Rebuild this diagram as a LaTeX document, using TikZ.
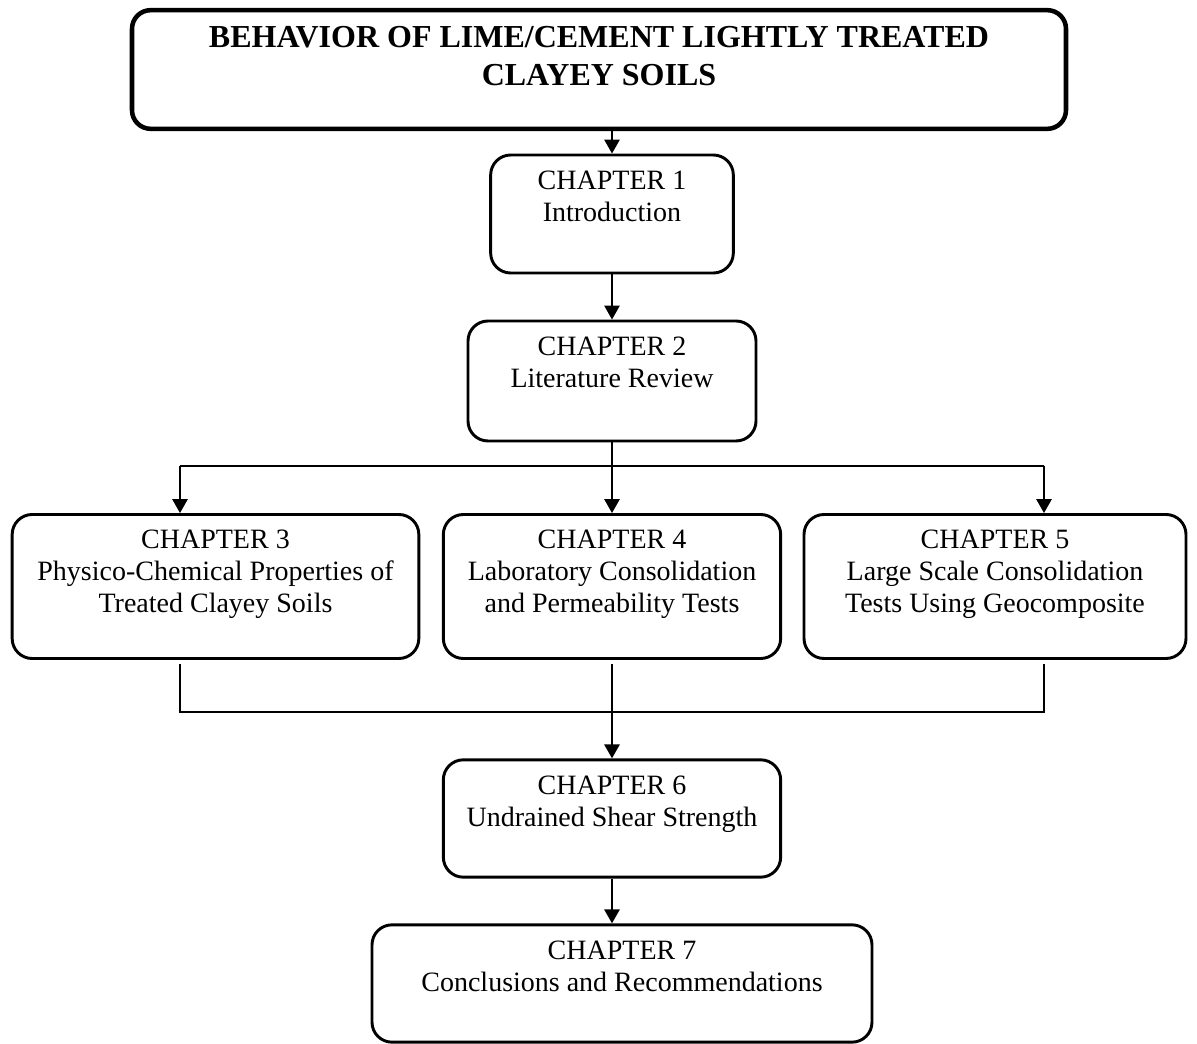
\documentclass[tikz,border=0pt]{standalone}
\usepackage{fontspec}
\setmainfont{Liberation Serif}
\usetikzlibrary{arrows.meta, positioning, calc}

\tikzset{
  chapbox/.style={draw, rounded corners=15pt, line width=2.2pt, inner sep=0pt},
  chaplabel/.style={anchor=north, align=center, inner sep=0pt, yshift=-12.75pt, font=\fontsize{21}{24}\selectfont},
  link/.style={line width=1.5pt},
  arrow/.style={link, -{Triangle[width=11.5pt,length=10.5pt]}}
}

\begin{document}
\begin{tikzpicture}[x=0.75pt, y=-0.75pt]
\useasboundingbox (0,0) rectangle (1197,1044);

% title
\node[chapbox, line width=3.4pt, rounded corners=14pt, minimum width=700.5pt, minimum height=89pt,
  label={[chaplabel, yshift=-1pt, font=\bfseries\fontsize{24}{28.5}\selectfont]north:{BEHAVIOR OF LIME/CEMENT LIGHTLY TREATED\\CLAYEY SOILS}}]
  (title) at (599,69.5) {};

% chapters
\node[chapbox, minimum width=182pt, minimum height=88.5pt,
  label={[chaplabel]north:{CHAPTER 1\\Introduction}}] (ch1) at (612,214) {};
\node[chapbox, minimum width=216pt, minimum height=90pt,
  label={[chaplabel]north:{CHAPTER 2\\Literature Review}}] (ch2) at (612,381) {};
\node[chapbox, minimum width=305pt, minimum height=108pt,
  label={[chaplabel]north:{CHAPTER 3\\Physico-Chemical Properties of\\Treated Clayey Soils}}] (ch3) at (215.5,586.5) {};
\node[chapbox, minimum width=253pt, minimum height=108pt,
  label={[chaplabel]north:{CHAPTER 4\\Laboratory Consolidation\\and Permeability Tests}}] (ch4) at (612,586.5) {};
\node[chapbox, minimum width=286.5pt, minimum height=108pt,
  label={[chaplabel]north:{CHAPTER 5\\Large Scale Consolidation\\Tests Using Geocomposite}}] (ch5) at (995,586.5) {};
\node[chapbox, minimum width=253pt, minimum height=88pt,
  label={[chaplabel]north:{CHAPTER 6\\Undrained Shear Strength}}] (ch6) at (612,818.5) {};
\node[chapbox, minimum width=375pt, minimum height=88pt,
  label={[chaplabel]north:{CHAPTER 7\\Conclusions and Recommendations}}] (ch7) at (622,983.5) {};

% branch and merge points
\coordinate (splitL) at (180,466);
\coordinate (splitR) at (1044,466);
\coordinate (joinL) at (180,712);
\coordinate (joinR) at (1044,712);

\draw[arrow] (ch1.north |- title.south) -- (ch1.north);
\draw[arrow] (ch1) -- (ch2);
\draw[link] (ch2.south) -- (ch2.south |- splitL);
\draw[link] (splitL) -- (splitR);
\draw[arrow] (splitL) -- (splitL |- ch3.north);
\draw[arrow] (ch2.south |- splitL) -- (ch4.north);
\draw[arrow] (splitR) -- (splitR |- ch5.north);

\draw[link] ($(joinL |- ch3.south)+(0,4)$) -- (joinL) -- (joinR) -- ($(joinR |- ch5.south)+(0,4)$);
\draw[arrow] ($(ch4.south)+(0,4)$) -- (ch6.north);
\draw[arrow] (ch6.south) -- (ch6.south |- ch7.north);
\end{tikzpicture}
\end{document}
